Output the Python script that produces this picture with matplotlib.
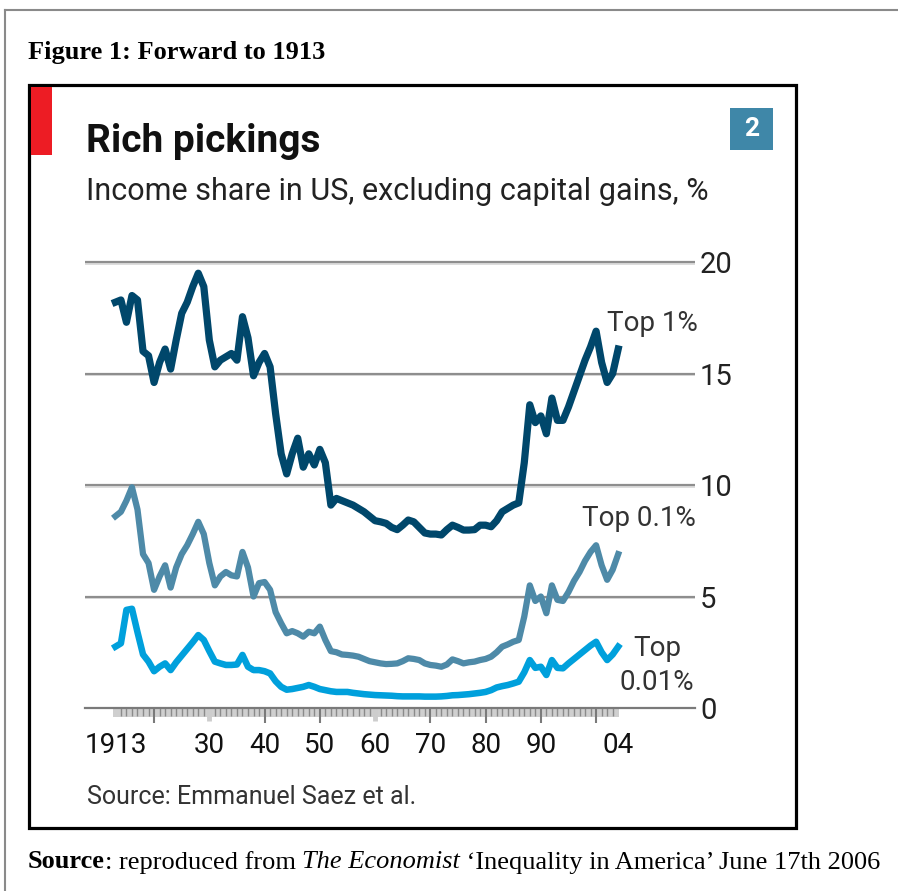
import matplotlib
matplotlib.use("Agg")
import matplotlib.pyplot as plt
from matplotlib.patches import Rectangle
from matplotlib.lines import Line2D

plt.rcParams['font.family'] = ['Roboto', 'DejaVu Sans']

# ---------------- data ----------------
years = list(range(1913, 2005))

top1 = [
    18.2, 18.3, 17.3, 18.5, 18.3, 16.0, 15.8,                                  # 1913-1919
    14.6, 15.5, 16.1, 15.2, 16.5, 17.7, 18.2, 18.9, 19.5, 18.9,                # 1920s
    16.5, 15.3, 15.6, 15.75, 15.9, 15.6, 17.55, 16.6, 14.9, 15.5,              # 1930s
    15.9, 15.3, 13.2, 11.4, 10.5, 11.4, 12.1, 10.8, 11.4, 10.9,                # 1940s
    11.6, 11.0, 9.1, 9.4, 9.3, 9.2, 9.1, 8.95, 8.8, 8.6,                       # 1950s
    8.4, 8.35, 8.28, 8.1, 8.0, 8.2, 8.43, 8.35, 8.1, 7.85,                     # 1960s
    7.8, 7.8, 7.76, 8.0, 8.2, 8.1, 7.98, 7.98, 8.0, 8.2,                       # 1970s
    8.2, 8.13, 8.4, 8.8, 8.95, 9.1, 9.2, 11.0, 13.6, 12.8,                     # 1980s
    13.1, 12.3, 13.9, 12.9, 12.9, 13.5, 14.2, 14.9, 15.6, 16.2,                # 1990s
    16.9, 15.5, 14.6, 15.0, 16.1,                                              # 2000-2004
]

top01 = [
    8.6, 8.8, 9.3, 9.9, 8.9, 6.9, 6.5,                                         # 1913-1919
    5.3, 5.9, 6.4, 5.4, 6.3, 6.9, 7.3, 7.8, 8.35, 7.8,                         # 1920s
    6.5, 5.5, 5.9, 6.1, 5.95, 5.9, 7.0, 6.3, 5.0, 5.6,                         # 1930s
    5.65, 5.3, 4.3, 3.8, 3.35, 3.45, 3.35, 3.2, 3.42, 3.35,                    # 1940s
    3.65, 3.05, 2.55, 2.5, 2.4, 2.38, 2.35, 2.3, 2.2, 2.1,                     # 1950s
    2.05, 2.0, 1.97, 1.98, 2.0, 2.1, 2.23, 2.2, 2.15, 2.0,                     # 1960s
    1.93, 1.9, 1.85, 1.95, 2.18, 2.1, 2.0, 2.05, 2.08, 2.15,                   # 1970s
    2.2, 2.3, 2.5, 2.75, 2.85, 2.97, 3.05, 4.1, 5.5, 4.8,                      # 1980s
    5.0, 4.25, 5.5, 4.85, 4.8, 5.2, 5.7, 6.1, 6.6, 7.0,                        # 1990s
    7.3, 6.4, 5.75, 6.2, 6.9,                                                  # 2000-2004
]

top001 = [
    2.75, 2.9, 4.4, 4.45, 3.4, 2.4, 2.08,                                      # 1913-1919
    1.65, 1.85, 2.0, 1.7, 2.05, 2.35, 2.65, 2.95, 3.27, 3.05,                  # 1920s
    2.55, 2.08, 2.0, 1.93, 1.93, 1.95, 2.38, 1.85, 1.7, 1.7,                   # 1930s
    1.65, 1.55, 1.2, 0.95, 0.82, 0.85, 0.9, 0.95, 1.03, 0.95,                  # 1940s
    0.85, 0.8, 0.75, 0.72, 0.72, 0.72, 0.68, 0.65, 0.62, 0.6,                  # 1950s
    0.58, 0.57, 0.56, 0.55, 0.53, 0.52, 0.52, 0.52, 0.52, 0.51,                # 1960s
    0.51, 0.51, 0.52, 0.54, 0.57, 0.58, 0.6, 0.62, 0.65, 0.68,                 # 1970s
    0.72, 0.8, 0.92, 0.98, 1.03, 1.1, 1.18, 1.6, 2.15, 1.8,                    # 1980s
    1.85, 1.48, 2.15, 1.8, 1.78, 2.0, 2.2, 2.4, 2.6, 2.8,                      # 1990s
    2.97, 2.5, 2.15, 2.4, 2.75,                                                # 2000-2004
]

xtick_pos = [1913, 1920, 1930, 1940, 1950, 1960, 1970, 1980, 1990, 2000, 2004]
xtick_lab = ['1913', '', '30', '40', '50', '60', '70', '80', '90', '', '04']
ytick_pos = [0, 5, 10, 15, 20]

# ---------------- figure ----------------
W, H = 898, 891
fig = plt.figure(figsize=(W / 100, H / 100), dpi=100)
fig.patch.set_facecolor('white')


def fx(x):
    return x / W


def fy(y):
    return 1 - y / H


# outer page frame (gray)
fig.add_artist(Line2D([fx(5), fx(5)], [fy(10), 0], color='#8a8a8a', lw=1.5))
fig.add_artist(Line2D([fx(5), 1], [fy(10), fy(10)], color='#8a8a8a', lw=1.5))

# figure heading
fig.text(fx(28), fy(53), 'Figure 1: Forward to 1913', family='Liberation Serif',
         weight='bold', size=19, va='center', ha='left', color='black')

# black box
fig.add_artist(Rectangle((fx(29), fy(828)), fx(796) - fx(29), fy(85) - fy(828),
                         transform=fig.transFigure, fill=False, ec='black', lw=2.3))
# red tab
fig.add_artist(Rectangle((fx(31), fy(155)), fx(52) - fx(31), fy(87) - fy(155),
                         transform=fig.transFigure, fc='#ed1c24', ec='none'))
# blue number box
fig.add_artist(Rectangle((fx(730), fy(150)), fx(773) - fx(730), fy(108) - fy(150),
                         transform=fig.transFigure, fc='#3f87a8', ec='none'))
fig.text(fx(751.5), fy(129), '2', color='white', weight='bold', size=19,
         ha='center', va='center')

fig.text(fx(86), fy(141), 'Rich pickings', weight='bold', size=28, ha='left',
         va='center', color='#111')
fig.text(fx(86), fy(192), 'Income share in US, excluding capital gains, %', size=22,
         ha='left', va='center', color='#222')
fig.text(fx(87), fy(797), 'Source: Emmanuel Saez et al.', size=18,
         ha='left', va='center', color='#333')

# ---------------- chart ----------------
ax = fig.add_axes([fx(85), fy(730), (695 - 85) / W, (730 - 240) / H])
ax.set_xlim(1907.5, 2017.9)
ax.set_ylim(-0.987, 20.99)
ax.set_facecolor('none')

for v in ytick_pos[1:]:
    ax.axhline(v, color='#8e8e8e', lw=1.6, zorder=1)
    ax.axhline(v - 0.08, color='#dadada', lw=1.3, zorder=0.9)

for s in ['top', 'left', 'right']:
    ax.spines[s].set_visible(False)
ax.spines['bottom'].set_position(('data', 0))
ax.spines['bottom'].set_color('#7a7a7a')
ax.spines['bottom'].set_linewidth(1.6)

# gray band under the axis
ax.fill_between([1912.6, 2004.2], -0.42, 0, color='#cfcfcf', lw=0, zorder=1.5)

ax.set_xticks(xtick_pos, xtick_lab)
ax.set_xticks(years, minor=True)
ax.tick_params(axis='x', which='major', direction='out', length=10.5, width=1.5,
               color='#7a7a7a', pad=6.5, labelsize=20, labelcolor='#111')
ax.tick_params(axis='x', which='minor', direction='out', length=5.5, width=1.0,
               color='#8a8a8a')
mt = ax.xaxis.get_major_ticks()
mt[0].tick1line.set_visible(False)
mt[-1].tick1line.set_visible(False)
for i in (2, 5):
    mt[i].tick1line.set_markeredgecolor('#cdcdcd')
    mt[i].tick1line.set_markeredgewidth(3.5)
    mt[i].tick1line.set_markersize(9)

ax.yaxis.tick_right()
ax.set_yticks(ytick_pos)
ax.tick_params(axis='y', length=0, pad=3.6, labelsize=21, labelcolor='#222')

ax.plot(years, top001, color='#00a0dc', lw=4.7, zorder=3)
ax.plot(years, top01, color='#4e8aa8', lw=4.5, zorder=3)
ax.plot(years, top1, color='#00476b', lw=5.2, zorder=4)

ax.text(2002.0, 17.26, 'Top 1%', ha='left', va='center', size=20, color='#333')
ax.text(1997.5, 8.48, 'Top 0.1%', ha='left', va='center', size=20, color='#333')
ax.text(2011.0, 1.9, 'Top\n0.01%', ha='center', va='center', multialignment='center',
        size=20, color='#333', linespacing=1.3)

# ---------------- bottom source line ----------------
t1 = fig.text(fx(28), fy(862), 'Source', family='Liberation Serif', weight='bold',
              size=19, va='center', ha='left')
t2 = ax.annotate(': reproduced from ', xy=(1, 0), xycoords=t1, va='bottom', ha='left',
                 family='Liberation Serif', size=19, annotation_clip=False)
t3 = ax.annotate('The Economist', xy=(1, 0), xycoords=t2, va='bottom', ha='left',
                 family='Liberation Serif', style='italic', size=19, annotation_clip=False)
t4 = ax.annotate(' \u2018Inequality in America\u2019 June 17th 2006', xy=(1, 0),
                 xycoords=t3, va='bottom', ha='left', family='Liberation Serif',
                 size=19, annotation_clip=False)

fig.savefig('out.png', dpi=100, facecolor='white')
